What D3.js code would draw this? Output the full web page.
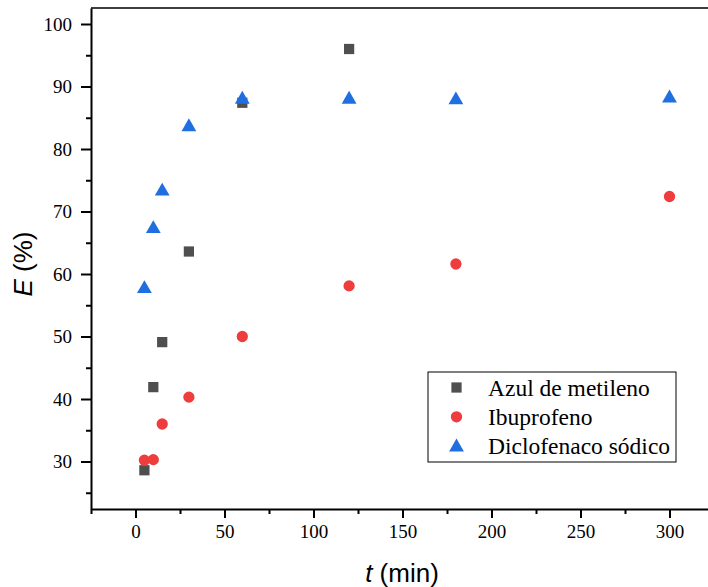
<!DOCTYPE html>
<html><head><meta charset="utf-8">
<script src="https://cdn.jsdelivr.net/npm/d3@7"></script>
<style>body{margin:0;background:#fff}svg{display:block}</style>
</head><body><svg id="c" width="708" height="587"></svg>
<script>
const tAzul = [5, 10, 15, 30, 60, 120];
const eAzul = [28.6, 41.9, 49.1, 63.6, 87.4, 96.0];
const tIbu = [5, 10, 15, 30, 60, 120, 180, 300];
const eIbu = [30.2, 30.3, 36.0, 40.3, 50.0, 58.1, 61.6, 72.4];
const tDic = [5, 10, 15, 30, 60, 120, 180, 300];
const eDic = [57.8, 67.4, 73.4, 83.7, 88.1, 88.1, 88.0, 88.3];
const seriesNames = ["Azul de metileno", "Ibuprofeno", "Diclofenaco sódico"];
const xTicks = [0, 50, 100, 150, 200, 250, 300];
const yTicks = [30, 40, 50, 60, 70, 80, 90, 100];

const svg = d3.select("#c");
const L = 91, R = 714, T = 8, B = 509;
const x = d3.scaleLinear().domain([-25, 325]).range([L, R]);
const y = d3.scaleLinear().domain([22.4, 102.56]).range([B, T]);

svg.append("path").attr("d", `M${L},${T}H${R}V${B}`).attr("fill","none").attr("stroke","#000").attr("stroke-width",1.5);

const serif = "'Liberation Serif','Times New Roman',serif";
const sans = "'Liberation Sans',Arial,sans-serif";

const xa = svg.append("g").attr("transform",`translate(0,${B})`)
  .call(d3.axisBottom(x).tickValues(xTicks).tickSize(9).tickPadding(7).tickSizeOuter(0));
xa.attr("font-family", null).attr("font-size", null);
xa.select(".domain").attr("stroke-width",2);
xa.selectAll(".tick line").attr("stroke-width",2);
xa.selectAll("text").style("font-family",serif).style("font-size","19px").attr("fill","#000");
svg.append("g").attr("transform",`translate(0,${B})`)
  .call(d3.axisBottom(x).tickValues(d3.range(-25,326,50)).tickSize(5).tickFormat("").tickSizeOuter(0))
  .call(g=>{g.select(".domain").remove(); g.selectAll("line").attr("stroke-width",2);});

const ya = svg.append("g").attr("transform",`translate(${L},0)`)
  .call(d3.axisLeft(y).tickValues(yTicks).tickSize(10).tickPadding(9).tickSizeOuter(0));
ya.attr("font-family", null).attr("font-size", null);
ya.select(".domain").attr("stroke-width",2);
ya.selectAll(".tick line").attr("stroke-width",2);
ya.selectAll("text").style("font-family",serif).style("font-size","19px").attr("fill","#000");
svg.append("g").attr("transform",`translate(${L},0)`)
  .call(d3.axisLeft(y).tickValues(d3.range(25,101,10)).tickSize(5).tickFormat("").tickSizeOuter(0))
  .call(g=>{g.select(".domain").remove(); g.selectAll("line").attr("stroke-width",2);});

const xt = svg.append("text").attr("x", 402).attr("y", 582).attr("text-anchor","middle")
  .style("font-family",sans).style("font-size","26px").attr("fill","#000");
xt.append("tspan").style("font-style","italic").text("t");
xt.append("tspan").text(" (min)");
const yt = svg.append("text").attr("transform","translate(32,264) rotate(-90)").attr("text-anchor","middle")
  .style("font-family",sans).style("font-size","26px").attr("fill","#000");
yt.append("tspan").style("font-style","italic").text("E");
yt.append("tspan").text(" (%)");

const cA = "#4f4f4f", cI = "#ef3c3c", cD = "#1f6fe0";
const sq = d3.symbol().type(d3.symbolSquare).size(105);
const ci = d3.symbol().type(d3.symbolCircle).size(100);
const tr = d3.symbol().type(d3.symbolTriangle).size(95);

svg.append("g").selectAll("path").data(tAzul.map((t,i)=>[t,eAzul[i]])).join("path")
  .attr("d", sq).attr("fill", cA).attr("transform", d=>`translate(${x(d[0])},${y(d[1])})`);
svg.append("g").selectAll("path").data(tIbu.map((t,i)=>[t,eIbu[i]])).join("path")
  .attr("d", ci).attr("fill", cI).attr("transform", d=>`translate(${x(d[0])},${y(d[1])})`);
svg.append("g").selectAll("path").data(tDic.map((t,i)=>[t,eDic[i]])).join("path")
  .attr("d", tr).attr("fill", cD).attr("transform", d=>`translate(${x(d[0])},${y(d[1])+1})`);

const lg = svg.append("g");
lg.append("rect").attr("x",428).attr("y",372).attr("width",248).attr("height",90)
  .attr("fill","#fff").attr("stroke","#000").attr("stroke-width",1);
const syms = [[sq,cA],[ci,cI],[tr,cD]];
seriesNames.forEach((n,i)=>{
  const cy = 387.5 + i*29.3;
  lg.append("path").attr("d", syms[i][0]).attr("fill", syms[i][1]).attr("transform",`translate(456.5,${cy + (i===2?1:0)})`);
  lg.append("text").attr("x",488).attr("y",cy+8).style("font-family",serif).style("font-size","23.5px").attr("fill","#000").text(n);
});
</script></body></html>
